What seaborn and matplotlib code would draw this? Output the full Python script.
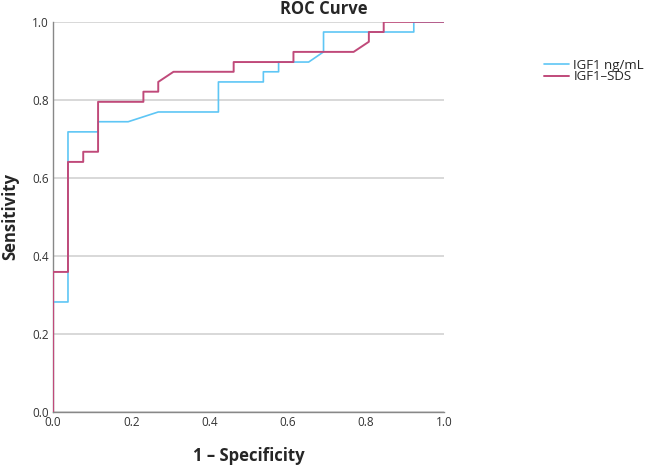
import matplotlib
matplotlib.use("Agg")
import matplotlib.pyplot as plt
import seaborn as sns
import pandas as pd

# ROC coordinates (39 positives, 26 negatives)
fpr_igf1 = [0, 0, 0.038, 0.038, 0.115, 0.115, 0.192, 0.269, 0.423, 0.423,
            0.538, 0.538, 0.577, 0.577, 0.654, 0.692, 0.692, 0.923, 0.923, 1.0]
tpr_igf1 = [0, 0.282, 0.282, 0.718, 0.718, 0.744, 0.744, 0.769, 0.769, 0.846,
            0.846, 0.872, 0.872, 0.897, 0.897, 0.923, 0.974, 0.974, 1.0, 1.0]

fpr_sds = [0, 0, 0.038, 0.038, 0.077, 0.077, 0.115, 0.115, 0.231, 0.231, 0.269,
           0.269, 0.308, 0.462, 0.462, 0.615, 0.615, 0.769, 0.808, 0.808, 0.846,
           0.846, 1.0]
tpr_sds = [0, 0.359, 0.359, 0.641, 0.641, 0.667, 0.667, 0.795, 0.795, 0.821, 0.821,
           0.846, 0.872, 0.872, 0.897, 0.897, 0.923, 0.923, 0.949, 0.974, 0.974,
           1.0, 1.0]

labels = ["IGF1 ng/mL", "IGF1\u2013SDS"]
colors = ["#5ec6f5", "#c04a7a"]

sns.set_style("white")
plt.rcParams['font.family'] = ['Open Sans', 'DejaVu Sans']

fig = plt.figure(figsize=(6.48, 4.65), dpi=100)
ax = fig.add_axes([0.082, 0.114, 0.603, 0.839])

df_a = pd.DataFrame({"x": fpr_igf1, "y": tpr_igf1})
df_b = pd.DataFrame({"x": fpr_sds, "y": tpr_sds})
sns.lineplot(data=df_a, x="x", y="y", sort=False, estimator=None, color=colors[0],
             linewidth=1.2, label=labels[0], ax=ax, zorder=3)
sns.lineplot(data=df_b, x="x", y="y", sort=False, estimator=None, color=colors[1],
             linewidth=1.4, label=labels[1], ax=ax, zorder=4)

ax.set_xlim(0, 1)
ax.set_ylim(0, 1)
ticks = [0.0, 0.2, 0.4, 0.6, 0.8, 1.0]
ax.set_xticks(ticks)
ax.set_yticks(ticks)
ax.set_xticklabels([f"{t:.1f}" for t in ticks], fontsize=8.5, color="#333333")
ax.set_yticklabels([f"{t:.1f}" for t in ticks], fontsize=8.5, color="#333333")
ax.tick_params(length=0, pad=3)
ax.yaxis.grid(True, color="#d6d6d6", linewidth=1.3)
ax.xaxis.grid(False)
for s in ["top", "right"]:
    ax.spines[s].set_visible(False)
for s in ["left", "bottom"]:
    ax.spines[s].set_color("#888888")
    ax.spines[s].set_linewidth(1.0)

ax.set_xlabel("1 \u2013 Specificity", fontsize=12, fontweight="bold", labelpad=13)
ax.set_ylabel("Sensitivity", fontsize=12, fontweight="bold", labelpad=9)
fig.text(0.5, 0.981, "ROC Curve", ha="center", va="center", fontsize=12,
         fontweight="bold")

ax.get_legend().remove()
handles, _ = ax.get_legend_handles_labels()
fig.legend(handles, labels, loc="upper left", bbox_to_anchor=(537 / 648, 1 - 52 / 465),
           frameon=False, fontsize=9.5, handlelength=1.9, handletextpad=0.35,
           labelspacing=-0.1, borderpad=0)

fig.savefig("out.png", dpi=100)
